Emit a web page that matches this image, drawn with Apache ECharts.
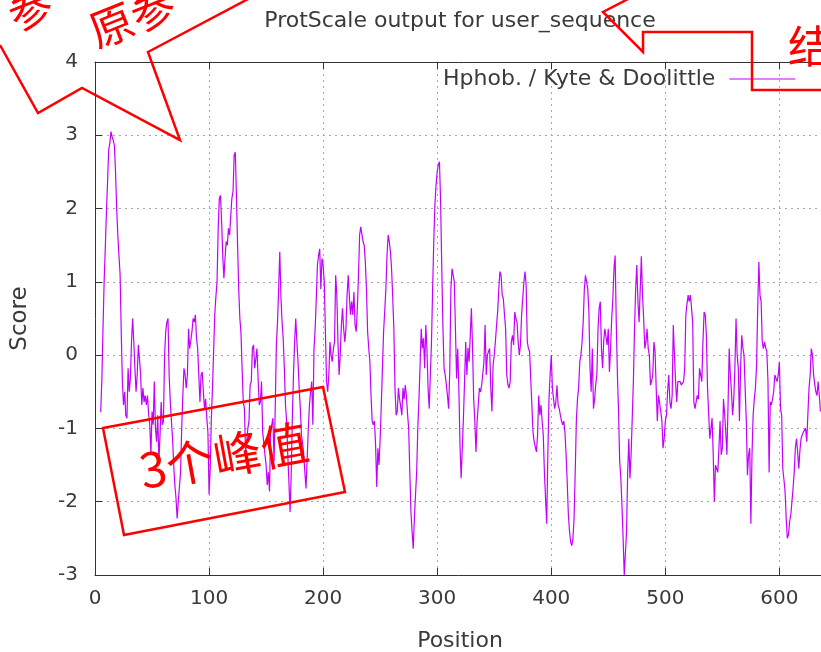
<!DOCTYPE html>
<html>
<head>
<meta charset="utf-8">
<script src="https://cdn.jsdelivr.net/npm/echarts@6/dist/echarts.min.js"></script>
<style>
html,body{margin:0;padding:0;background:#fff;}
#chart{width:821px;height:652px;}
</style>
</head>
<body>
<div id="chart"></div>
<script>
// ---- data ----
const firstPosition = 5;
const scores = [
 -0.78,-0.34,0.36,1.0,1.45,1.95,2.36,2.8,2.89,3.05,
 2.98,2.93,2.86,2.5,2.0,1.64,1.36,1.1,0.32,-0.36,
 -0.68,-0.5,-0.82,-0.86,-0.18,-0.5,-0.32,0.18,0.5,0.18,
 -0.18,-0.5,-0.27,0.14,-0.05,-0.27,-0.68,-0.45,-0.64,-0.55,
 -0.68,-0.55,-0.8,-0.95,-1.36,-0.77,-0.95,-0.36,-1.0,-1.18,
 -0.82,-1.45,-1.09,-0.64,-0.95,-0.9,0,0.32,0.45,0.5,
 -0.27,-0.64,-0.9,-1.14,-1.5,-1.77,-1.95,-2.23,-2.0,-1.8,
 -1.6,-1.0,-0.55,-0.18,-0.27,-0.45,-0.27,0.36,0.09,0.2,
 0.32,0.5,0.45,0.55,0.23,0.09,-0.27,-0.64,-0.27,-0.23,
 -0.5,-0.73,-0.6,-0.86,-1.05,-1.9,-1.55,-0.86,-0.45,0.05,
 0.55,0.8,1.0,1.73,2.14,2.18,1.82,1.36,1.05,1.32,
 1.55,1.5,1.73,1.64,1.9,2.14,2.23,2.73,2.77,2.18,
 1.5,0.9,0.5,0.3,-0.2,-0.64,-0.73,-1.32,-1.18,-1.0,
 -0.9,-0.41,-0.36,0.09,0.14,-0.18,-0.05,0.09,-0.32,-0.68,
 -0.64,-0.36,-1.05,-1.2,-1.36,-1.5,-1.77,-1.6,-1.86,-1.0,
 -0.95,-0.86,-1.45,-0.73,0.14,0.45,0.9,1.41,0.8,0.45,
 0.23,-0.18,-0.68,-0.9,-1.36,-1.73,-2.14,-1.64,-0.86,-0.27,
 0.18,0.5,0.18,-0.09,-0.45,-0.73,-1.09,-1.2,-1.36,-1.6,
 -1.82,-1.41,-1.0,-0.68,-0.5,-0.36,-0.95,0.09,0.36,0.77,
 1.23,1.36,1.45,0.9,1.32,1.23,1.0,0.32,-0.36,-0.5,
 -0.27,0.18,0,-0.09,0.09,0.18,1.09,0.82,0.18,-0.27,
 0,0.4,0.64,0.36,0.18,0.36,0.82,1.09,0.8,0.55,
 0.73,0.55,0.86,0.41,0.32,0.64,1.09,1.64,1.75,1.73,
 1.55,1.5,1.27,0.9,0.32,0.09,-0.09,-0.55,-0.9,-0.95,
 -0.9,-1.23,-1.8,-1.27,-1.5,-1.14,-0.68,-0.18,0.32,0.6,
 0.9,1.36,1.64,1.55,1.41,1.18,0.8,0.36,-0.45,-0.82,
 -0.77,-0.45,-0.6,-0.7,-0.82,-0.45,-0.6,-0.41,-0.55,-0.8,
 -1.0,-1.6,-2.14,-2.41,-2.64,-2.23,-1.9,-1.6,-1.0,-0.6,
 -0.14,0.36,0.09,0.23,-0.18,0.41,0.09,-0.45,-0.73,-0.27,
 0.18,0.9,1.55,2.05,2.32,2.5,2.6,2.64,2.09,1.2,
 0.41,-0.18,-0.27,-0.4,-0.55,-0.73,-0.23,0.9,1.18,1.09,
 1.0,0.36,-0.32,0.09,-0.45,-1.23,-1.68,-1.27,-0.86,-0.36,
 0.18,-0.27,0.1,-0.09,-0.09,0.64,0.09,-0.6,-0.9,-1.32,
 -0.9,-0.68,-0.45,-0.5,-0.41,-0.41,-0.09,0.41,-0.27,0,
 0.05,0.09,-0.45,-0.77,-0.14,0,0.18,0.4,0.59,0.9,
 1.14,1.09,0.82,0.77,0.55,0.36,-0.27,-0.4,-0.45,-0.36,
 0.18,0.27,0.14,0.59,0.5,0.45,0.18,0,0.14,0.55,
 0.77,1.0,1.14,0.95,0.18,0.09,0.05,-0.32,-0.68,-1.05,
 -1.18,-1.25,-1.32,-1.09,-0.55,-0.82,-0.68,-0.9,-1.09,-1.6,
 -1.95,-2.3,-1.36,-0.6,-0.27,0,-0.45,-0.6,-0.73,-0.64,
 -0.41,-0.68,-0.73,-0.82,-0.9,-0.95,-0.9,-1.05,-1.36,-1.73,
 -2.18,-2.4,-2.55,-2.6,-2.5,-2.23,-1.6,-0.9,-0.6,-0.45,
 -0.09,0,0.18,0.45,0.9,1.09,1.0,0.9,0.59,-0.18,
 -0.5,0.09,-0.73,-0.6,-0.4,-0.27,0.36,0.64,0.73,0.09,
 -0.18,0.2,0.36,0.36,0.14,0.36,-0.23,0.09,0.5,0.77,
 1.18,1.36,0.45,-0.27,-0.77,-1.45,-1.68,-2.05,-2.5,-3.0,
 -3.0,-2.41,-1.6,-1.14,-1.68,-1.36,-0.86,-0.36,0.36,0.9,
 1.23,0.73,0.45,0.9,1.35,0.82,0.5,0.09,0.18,0.36,
 0.09,0,-0.41,-0.35,-0.27,0.18,0.05,-0.45,-0.9,-0.55,
 -0.65,-0.77,-0.9,-1.27,-1.14,-0.9,-0.82,-0.5,-0.27,-0.64,
 -0.73,-0.55,0.41,0,-0.36,-0.64,-0.36,-0.38,-0.36,-0.41,
 -0.41,-0.36,-0.18,0.55,0.7,0.82,0.73,0.82,0.64,0.45,
 -0.64,-0.73,-0.73,-0.55,-0.6,-0.18,-0.27,-0.36,0.18,0.59,
 0.55,0.27,-0.45,-0.8,-1.14,-1.0,-0.86,-1.36,-2.0,-1.5,
 -1.55,-1.6,-1.27,-0.9,-1.36,-1.27,-0.6,-0.8,-1.05,-1.36,
 -0.68,0.09,-0.27,-0.5,-0.82,-0.6,-0.18,0.5,0,-0.18,
 -0.9,-0.18,0.27,0.1,0,-0.45,-0.9,-1.64,-1.36,-1.27,
 -2.3,-1.36,-0.82,-0.6,-0.45,-0.14,0.64,1.27,0.82,0.73,
 0.18,0.09,0.18,0.1,0.05,-0.36,-1.6,-0.64,-0.68,-0.6,
 -0.5,-0.27,-0.27,-0.36,-0.27,-0.09,-0.73,-0.82,-1.55,-1.7,
 -1.86,-2.23,-2.5,-2.45,-2.27,-2.18,-2.0,-1.82,-1.6,-1.27,
 -1.14,-1.32,-1.55,-1.3,-1.14,-1.09,-1.05,-1.05,-1.0,-1.18,
 -0.8,-0.45,-0.27,0.09,0,-0.27,-0.4,-0.5,-0.55,-0.36,
 -0.55,-0.77
];
const xTicks = [0, 100, 200, 300, 400, 500, 600];
const yTicks = [-3, -2, -1, 0, 1, 2, 3, 4];
const seriesName = 'Hphob. / Kyte & Doolittle';
const titleText = 'ProtScale output for user_sequence';
const xName = 'Position';
const yName = 'Score';
const notePeaks = '3个峰值';

// ---- chart ----
const FONT = 'DejaVu Sans';
const TXT = '#3a3a3a';
const RED = '#ff0000';
const LINE = '#c400ff';
const data = scores.map((v, i) => [firstPosition + i, v]);
const chart = echarts.init(document.getElementById('chart'), null, {renderer: 'canvas'});

const axisCommon = {
  type: 'value',
  min: xTicks[0],
  max: 640,
  interval: xTicks[1] - xTicks[0],
  axisLine: {show: true, onZero: false, lineStyle: {color: '#333', width: 1}},
  axisTick: {show: true, inside: true, length: 7, lineStyle: {color: '#333'}}
};
const cjk = (size) => size + 'px "Noto Sans CJK SC"';
const redText = (text, x, y, size, rot) => ({
  type: 'text', z: 100, x: x, y: y, rotation: rot || 0,
  style: {text: text, font: cjk(size), fill: RED, textAlign: 'center', textVerticalAlign: 'middle', align: 'center', verticalAlign: 'middle'}
});

chart.setOption({
  animation: false,
  backgroundColor: '#ffffff',
  title: {
    text: titleText,
    left: 455,
    top: 5,
    textAlign: 'center',
    textStyle: {fontFamily: FONT, fontSize: 22, fontWeight: 'normal', color: TXT}
  },
  legend: {
    data: [seriesName],
    left: 443,
    top: 68,
    padding: 0,
    align: 'right',
    itemWidth: 66,
    itemHeight: 24,
    itemStyle: {opacity: 0},
    lineStyle: {color: LINE, width: 1.2},
    textStyle: {fontFamily: FONT, fontSize: 22, color: TXT, padding: [0, 9, 0, 0]}
  },
  grid: {left: 95, right: -4, top: 62, bottom: 77, containLabel: false, outerBoundsMode: 'none'},
  xAxis: [
    Object.assign({}, axisCommon, {
      position: 'bottom',
      name: xName,
      nameLocation: 'middle',
      nameGap: 55,
      nameTextStyle: {fontFamily: FONT, fontSize: 22, color: TXT},
      axisLabel: {fontFamily: FONT, fontSize: 20, color: TXT, margin: 14, showMaxLabel: false,
        formatter: v => (xTicks.indexOf(v) >= 0 ? String(v) : '')},
      splitLine: {show: true, lineStyle: {color: '#a8a8a8', width: 1, type: [2, 4]}}
    }),
    Object.assign({}, axisCommon, {
      position: 'top',
      axisLabel: {show: false},
      splitLine: {show: false}
    })
  ],
  yAxis: {
    type: 'value',
    min: yTicks[0],
    max: yTicks[yTicks.length - 1],
    interval: 1,
    name: yName,
    nameLocation: 'middle',
    nameGap: 63,
    nameTextStyle: {fontFamily: FONT, fontSize: 23, color: TXT},
    axisLine: {show: true, lineStyle: {color: '#333', width: 1}},
    axisTick: {show: true, inside: true, length: 7, lineStyle: {color: '#333'}},
    axisLabel: {fontFamily: FONT, fontSize: 20, color: TXT, margin: 17},
    splitLine: {show: true, lineStyle: {color: '#a8a8a8', width: 1, type: [2, 4]}}
  },
  series: [{
    name: seriesName,
    type: 'line',
    xAxisIndex: 0,
    data: data,
    symbol: 'none',
    showSymbol: false,
    lineStyle: {color: LINE, width: 1.2},
    itemStyle: {color: LINE},
    z: 3
  }],
  graphic: [
    // top-left callout
    {type: 'polyline', z: 100, shape: {points: [[0, 45], [38, 113], [82, 88], [180, 140], [148, 52], [250, -2]]},
      style: {stroke: RED, lineWidth: 2.5, fill: null}},
    redText('参', 30, 8, 44, 0.38),
    redText('原参', 132, 17, 44, 0.38),
    // top-right callout
    {type: 'polyline', z: 100, shape: {points: [[630, -2], [603, 12], [643, 52], [643, 32], [752, 32], [752, 90], [823, 90]]},
      style: {stroke: RED, lineWidth: 2.5, fill: null}},
    redText('结', 810, 46, 44, 0),
    // bottom-left note box
    {type: 'polygon', z: 100, shape: {points: [[103, 428], [323, 387], [345, 492], [124, 535]]},
      style: {stroke: RED, lineWidth: 2.5, fill: null}},
    redText(notePeaks, 224, 456, 48, 0.18)
  ]
});
</script>
</body>
</html>
